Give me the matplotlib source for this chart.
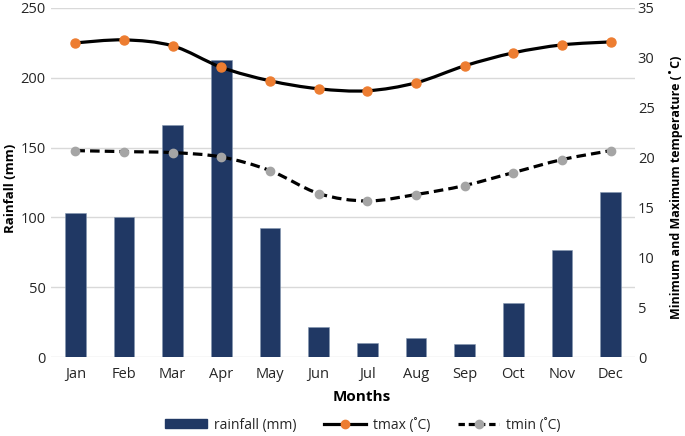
import matplotlib
matplotlib.use("Agg")
import matplotlib.pyplot as plt
import numpy as np
from matplotlib.path import Path
from matplotlib.patches import PathPatch
from matplotlib.lines import Line2D
from matplotlib.patches import Patch

months = ["Jan", "Feb", "Mar", "Apr", "May", "Jun", "Jul", "Aug", "Sep", "Oct", "Nov", "Dec"]
rainfall = [103.2, 100.0, 166.4, 212.5, 92.6, 21.3, 10.3, 13.6, 9.3, 38.7, 76.9, 118.2]
tmax = [31.5, 31.8, 31.2, 29.05, 27.7, 26.9, 26.7, 27.5, 29.2, 30.5, 31.3, 31.6]
tmin = [20.7, 20.6, 20.5, 20.06, 18.7, 16.4, 15.65, 16.3, 17.2, 18.5, 19.8, 20.7]
left_ticks = [0, 50, 100, 150, 200, 250]
right_ticks = [0, 5, 10, 15, 20, 25, 30, 35]

FONT = "Open Sans"
plt.rcParams["font.family"] = [FONT, "DejaVu Sans"]

BAR = "#203864"
ORANGE = "#ED7D31"
GRAY = "#A5A5A5"
TXT = "#262626"

fig = plt.figure(figsize=(6.85, 4.36), dpi=100)
ax = fig.add_axes([0.0745, 0.181, 0.8525, 0.8007])
ax2 = ax.twinx()

x = np.arange(len(months))
ax.bar(x, rainfall, width=0.42, color=BAR, edgecolor="#8497b0", linewidth=0.4, zorder=2)
ax.set_xlim(-0.5, len(months) - 0.5)
ax.set_ylim(0, 250)
ax.set_yticks(left_ticks)
ax.grid(axis="y", color="#d9d9d9", linewidth=1.0, zorder=0)
ax.set_axisbelow(True)
ax.set_xticks(x)
ax.set_xticklabels(months)
ax.tick_params(axis="both", length=0, labelsize=10.5, colors=TXT)
ax.tick_params(axis="x", pad=7)
ax.tick_params(axis="y", pad=4)
for s in ax.spines.values():
    s.set_visible(False)
for s in ax2.spines.values():
    s.set_visible(False)

ax2.set_ylim(0, 35)
ax2.set_yticks(right_ticks)
ax2.tick_params(axis="y", length=0, labelsize=10.5, colors=TXT, pad=2)


def smooth_path(xs, ys, t=1/6):
    xs = list(xs); ys = list(ys)
    n = len(xs)
    verts = [(xs[0], ys[0])]
    codes = [Path.MOVETO]
    for i in range(n - 1):
        p0 = (xs[max(i - 1, 0)], ys[max(i - 1, 0)])
        p1 = (xs[i], ys[i])
        p2 = (xs[i + 1], ys[i + 1])
        p3 = (xs[min(i + 2, n - 1)], ys[min(i + 2, n - 1)])
        c1 = (p1[0] + (p2[0] - p0[0]) * t, p1[1] + (p2[1] - p0[1]) * t)
        c2 = (p2[0] - (p3[0] - p1[0]) * t, p2[1] - (p3[1] - p1[1]) * t)
        verts += [c1, c2, p2]
        codes += [Path.CURVE4] * 3
    return Path(verts, codes)


ax2.add_patch(PathPatch(smooth_path(x, tmax), facecolor="none", edgecolor="black",
                        linewidth=2.3, zorder=3, capstyle="round"))
ax2.plot(x, tmax, linestyle="none", marker="o", markersize=6.5, color=ORANGE, zorder=4)
ax2.add_patch(PathPatch(smooth_path(x, tmin), facecolor="none", edgecolor="black",
                        linewidth=2.3, linestyle=(0, (3, 1.6)), zorder=3))
ax2.plot(x, tmin, linestyle="none", marker="o", markersize=6, color=GRAY, zorder=4)

fig.text(0.016, 0.569, "Rainfall (mm)", rotation=90, ha="center", va="center",
         fontsize=9.5, fontweight="bold", color="black")
fig.text(0.987, 0.571, "Minimum and Maximum temperature (˚C)", rotation=90, ha="center",
         va="center", fontsize=9, fontweight="bold", color="black")
fig.text(0.528, 0.089, "Months", ha="center", va="center", fontsize=11,
         fontweight="bold", color="black")

handles = [
    Patch(facecolor=BAR, edgecolor=BAR),
    Line2D([0], [0], color="black", linewidth=2.3, marker="o", markersize=6,
           markerfacecolor=ORANGE, markeredgecolor=ORANGE),
    Line2D([0], [0], color="black", linewidth=2.3, linestyle=(0, (2, 1.2)), marker="o",
           markersize=6, markerfacecolor=GRAY, markeredgecolor=GRAY),
]
labels = ["rainfall (mm)", "tmax (˚C)", "tmin (˚C)"]
leg = fig.legend(handles, labels, loc="center", bbox_to_anchor=(0.53, 0.025), ncol=3,
                 frameon=False, fontsize=10, handlelength=3.0, columnspacing=2.0,
                 handletextpad=0.5, handleheight=0.6)
for t in leg.get_texts():
    t.set_color(TXT)

fig.savefig("out.png", dpi=100)
